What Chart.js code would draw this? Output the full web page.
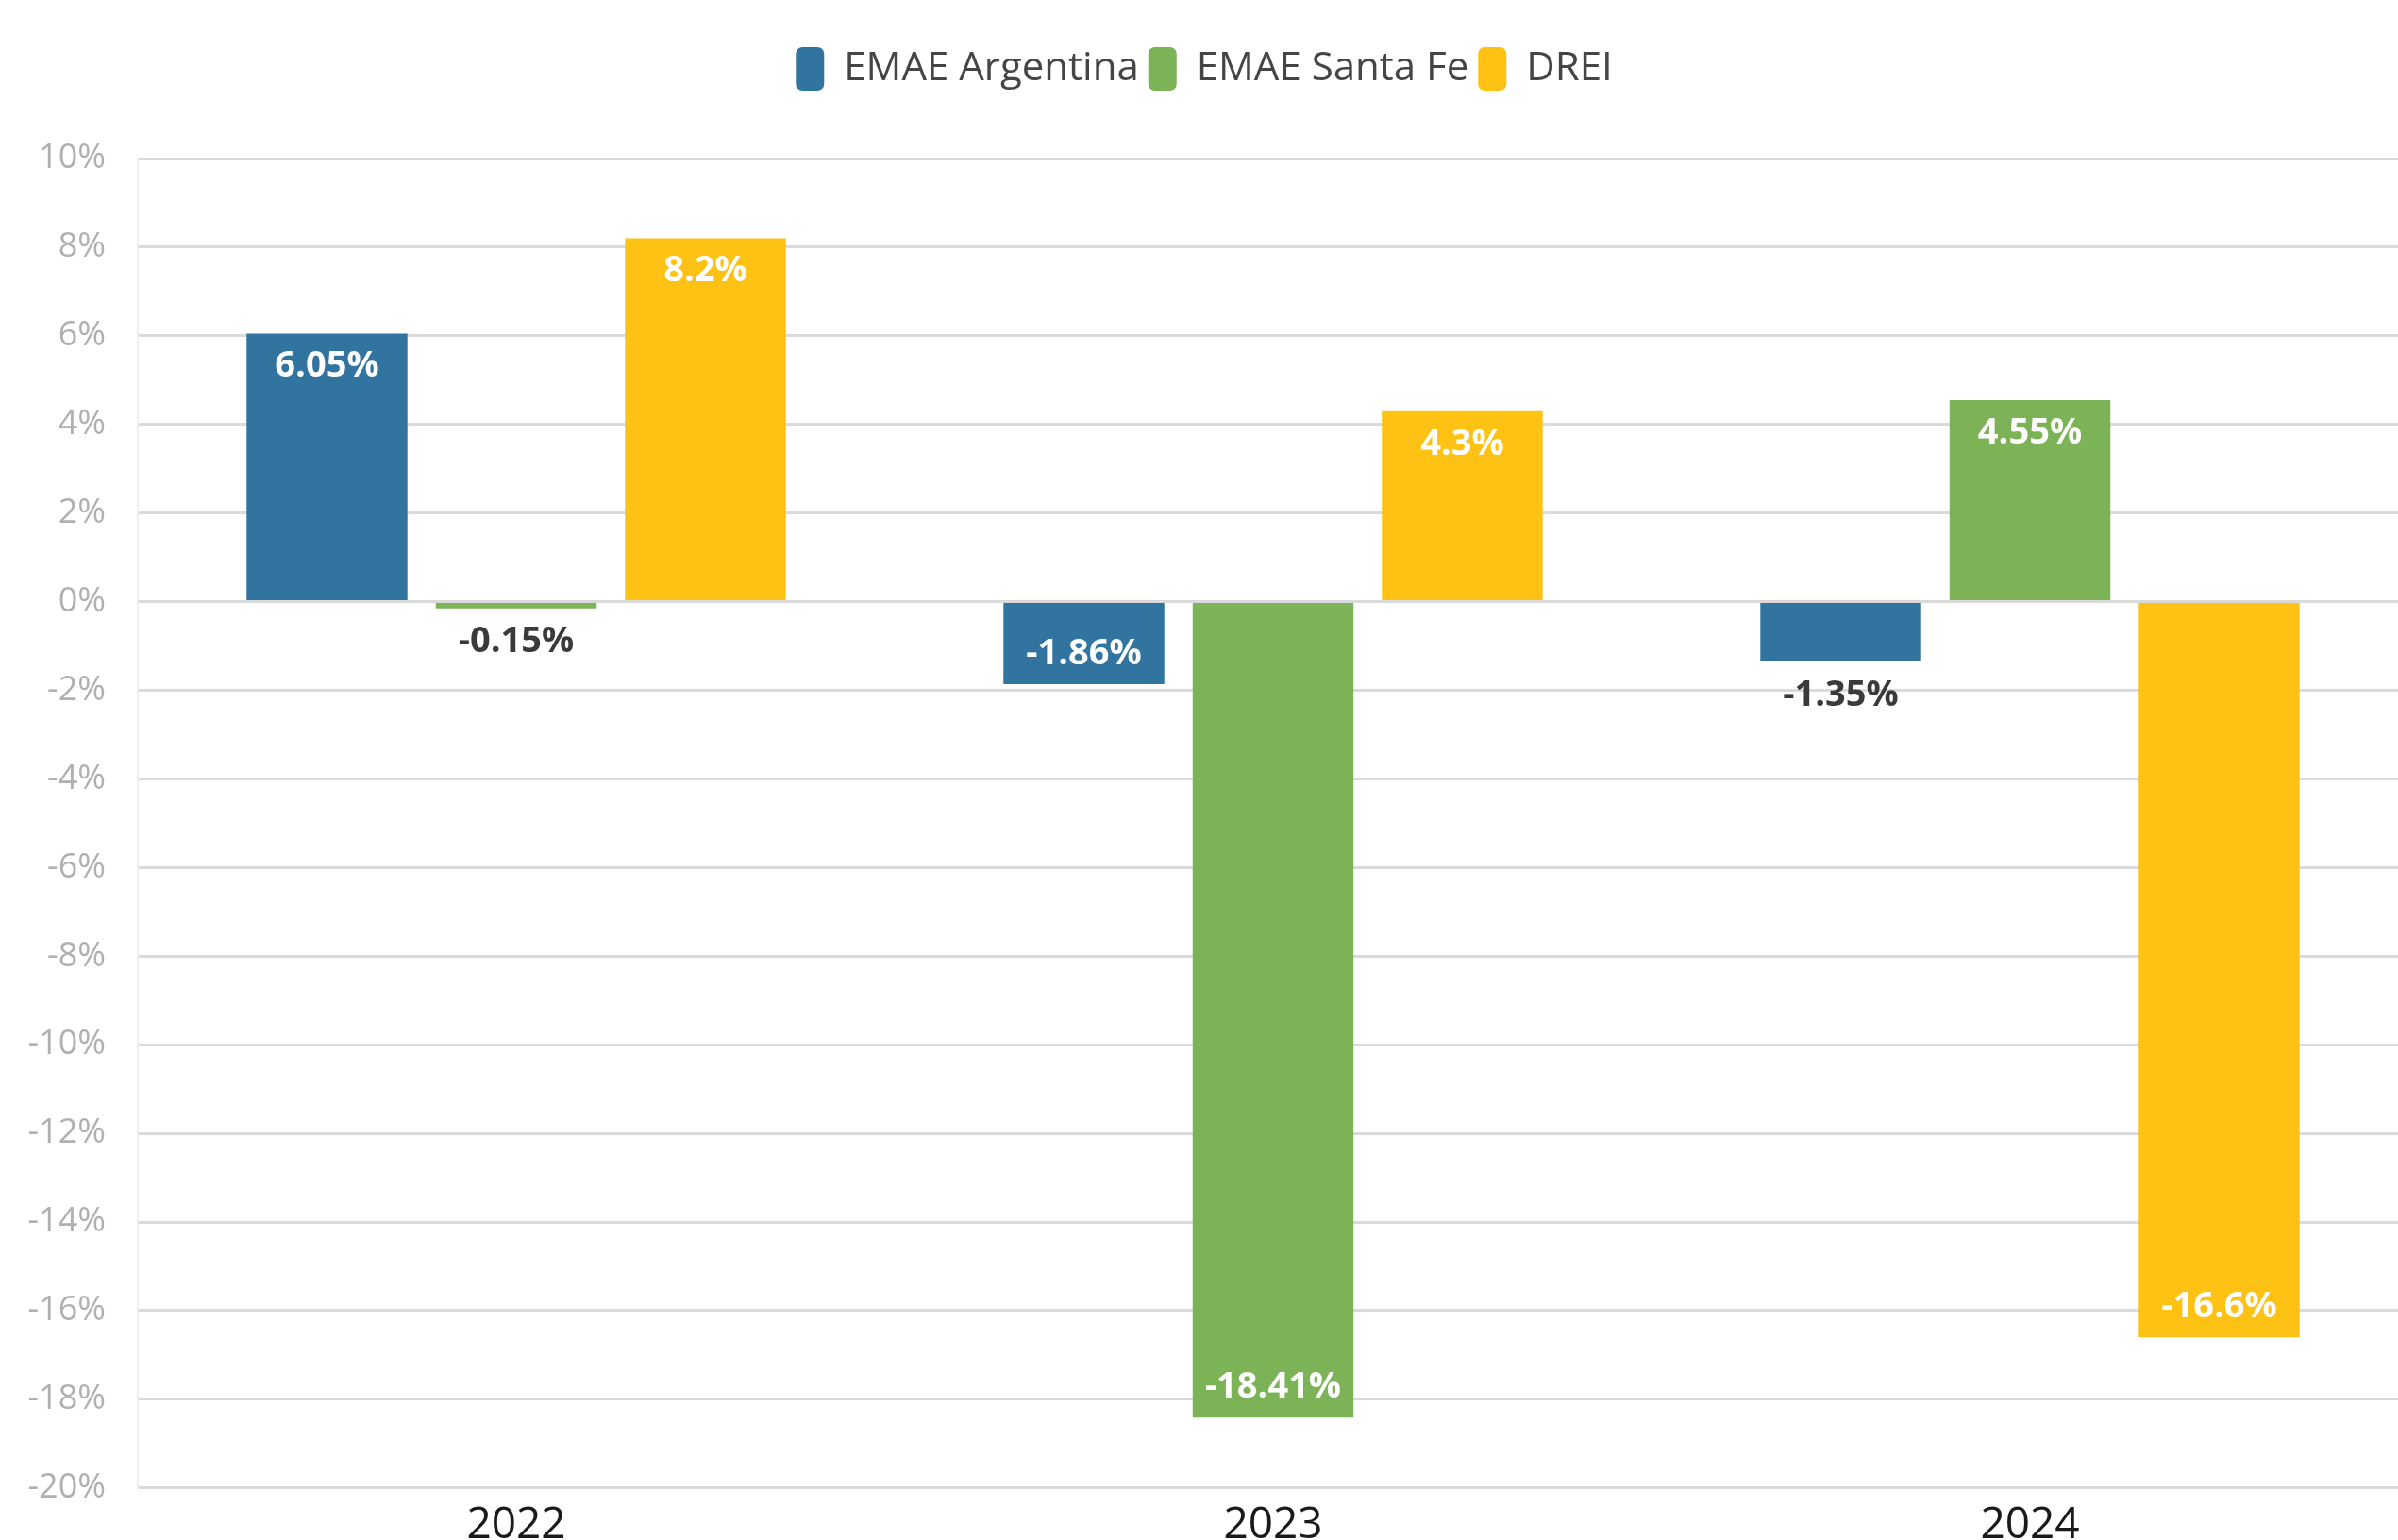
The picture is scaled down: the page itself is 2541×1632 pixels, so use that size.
<!DOCTYPE html>
<html>
<head>
<meta charset="utf-8">
<script src="https://cdn.jsdelivr.net/npm/chart.js@4.4.1/dist/chart.umd.min.js"></script>
<style>
  html, body { margin: 0; padding: 0; background: #fff; overflow: hidden; }
  #wrap { width: 2552px; height: 1656px; }
</style>
</head>
<body>
<div id="wrap"><canvas id="chart"></canvas></div>
<script>
const years = ['2022', '2023', '2024'];
const emaeArgentina = [6.05, -1.86, -1.35];
const emaeSantaFe = [-0.15, -18.41, 4.55];
const drei = [8.2, 4.3, -16.6];
const yTicks = [10, 8, 6, 4, 2, 0, -2, -4, -6, -8, -10, -12, -14, -16, -18, -20];

const BLUE = '#30749f';
const GREEN = '#7bb356';
const YELLOW = '#fdc214';

// value labels: white inside the bar end, dark grey just past the bar when it is too short
const barLabels = {
  id: 'barLabels',
  afterDatasetsDraw(chart) {
    const ctx = chart.ctx;
    ctx.save();
    ctx.font = 'bold 38px "Open Sans"';
    ctx.textAlign = 'center';
    ctx.textBaseline = 'middle';
    chart.data.datasets.forEach((ds, i) => {
      chart.getDatasetMeta(i).data.forEach((bar, j) => {
        const v = ds.data[j];
        const h = Math.abs(bar.base - bar.y);
        let y, color;
        if (h < 75) {
          y = v >= 0 ? bar.y - 36 : bar.y + 36;
          color = '#3a3a3a';
        } else {
          y = v >= 0 ? bar.y + 35 : bar.y - 32;
          color = '#ffffff';
        }
        ctx.fillStyle = color;
        ctx.fillText(v + '%', bar.x, y);
      });
    });
    ctx.restore();
  }
};

// extra room between legend and plot
const legendGap = {
  id: 'legendGap',
  beforeInit(chart) {
    const fit = chart.legend.fit;
    chart.legend.fit = function () {
      fit.bind(chart.legend)();
      this.height += 62;
    };
  }
};

new Chart(document.getElementById('chart'), {
  type: 'bar',
  data: {
    labels: years,
    datasets: [
      { label: 'EMAE Argentina', data: emaeArgentina, backgroundColor: BLUE },
      { label: 'EMAE Santa Fe', data: emaeSantaFe, backgroundColor: GREEN },
      { label: 'DREI', data: drei, backgroundColor: YELLOW }
    ]
  },
  options: {
    responsive: true,
    maintainAspectRatio: false,
    animation: false,
    categoryPercentage: 0.75,
    barPercentage: 0.85,
    layout: { padding: { top: 40, right: 0, left: 0, bottom: 0 } },
    plugins: {
      tooltip: { enabled: false },
      legend: {
        position: 'top',
        align: 'center',
        labels: {
          color: '#454545',
          font: { family: '"Open Sans"', size: 42 },
          boxWidth: 30,
          boxHeight: 46,
          useBorderRadius: true,
          borderRadius: 7,
          padding: 10
        }
      }
    },
    scales: {
      x: {
        grid: { display: false, drawTicks: false },
        border: { display: false },
        ticks: {
          color: '#1a1a1a',
          padding: 12,
          font: { family: '"Open Sans"', size: 46 }
        }
      },
      y: {
        min: -20,
        max: 10,
        afterBuildTicks: (s) => { s.ticks = yTicks.map(v => ({ value: v })); },
        afterFit: (s) => { s.width = 146; },
        grid: { color: '#dadada', lineWidth: 3, drawTicks: false },
        border: { display: true, color: '#efefef', width: 2 },
        ticks: {
          color: '#b0b0b0',
          padding: 34,
          font: { family: '"Open Sans"', size: 36 },
          callback: (v) => v + '%'
        }
      }
    }
  },
  plugins: [barLabels, legendGap]
});
</script>
</body>
</html>
